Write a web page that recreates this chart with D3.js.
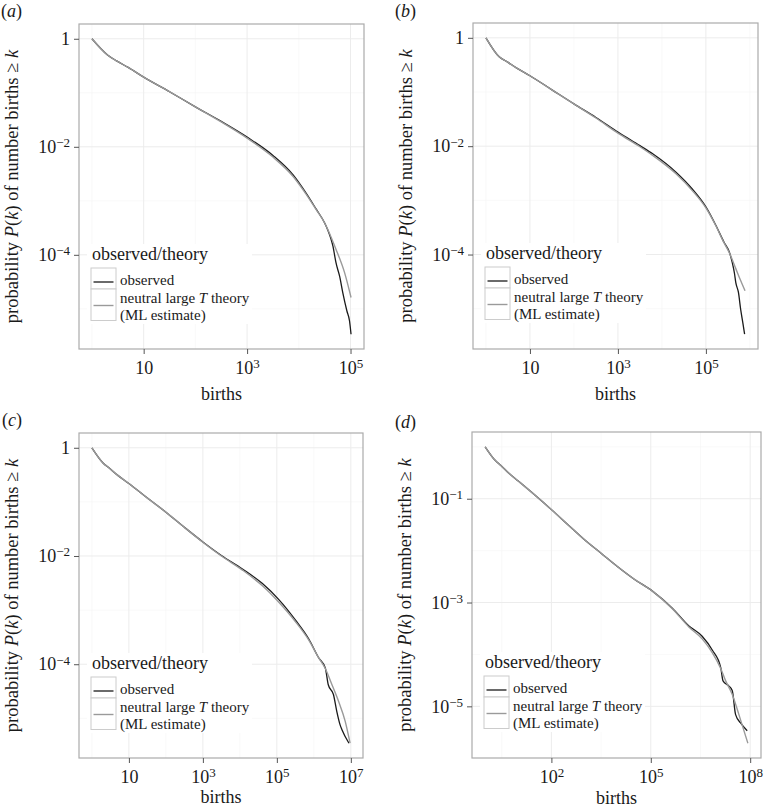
<!DOCTYPE html>
<html><head><meta charset="utf-8">
<script src="https://cdn.jsdelivr.net/npm/d3@7"></script>
<style>
body{margin:0;background:#fff}
svg{display:block}
svg text{font-family:'Liberation Serif','Times New Roman',Times,'DejaVu Serif',serif;fill:#1a1a1a}
</style>
</head><body>
<svg id="chart" width="765" height="808" font-family="'Liberation Serif', 'Times New Roman', Times, 'DejaVu Serif', serif"></svg>
<script>
// ---- data (log10 units: births exponent, probability exponent) ----
const aObsLogK = [0,0.301,0.477,0.7,1,1.5,2,2.5,3,3.5,3.89,4.15,4.34,4.5,4.56,4.62,4.66,4.70,4.72,4.79,4.85,4.93,4.98,5.01];
const aObsLogP = [0,-0.30,-0.41,-0.53,-0.71,-0.98,-1.26,-1.53,-1.82,-2.16,-2.52,-2.87,-3.16,-3.41,-3.54,-3.70,-3.84,-4.05,-4.15,-4.40,-4.70,-5.04,-5.22,-5.47];
const aThLogK  = [0,0.301,0.477,0.7,1,1.5,2,2.5,3,3.5,3.89,4.15,4.34,4.5,4.56,4.72,4.885,5.01];
const aThLogP  = [0,-0.30,-0.41,-0.53,-0.71,-0.98,-1.26,-1.54,-1.84,-2.19,-2.55,-2.89,-3.17,-3.41,-3.53,-3.90,-4.33,-4.79];

const bObsLogK = [0,0.301,0.477,0.7,1,1.5,2,2.5,3,3.5,3.79,4.32,4.69,5.0,5.22,5.41,5.54,5.6,5.65,5.68,5.74,5.79,5.84,5.88];
const bObsLogP = [0,-0.35,-0.44,-0.56,-0.70,-0.96,-1.22,-1.47,-1.74,-1.99,-2.14,-2.48,-2.79,-3.12,-3.45,-3.77,-3.97,-4.15,-4.35,-4.52,-4.70,-5.01,-5.26,-5.47];
const bThLogK  = [0,0.301,0.477,0.7,1,1.5,2,2.5,3,3.5,3.79,4.32,4.69,5.0,5.22,5.41,5.54,5.68,5.79,5.89];
const bThLogP  = [0,-0.35,-0.44,-0.56,-0.70,-0.96,-1.22,-1.48,-1.76,-2.01,-2.17,-2.51,-2.82,-3.14,-3.46,-3.78,-3.98,-4.26,-4.48,-4.67];

const cObsLogK = [0,0.301,0.477,0.7,1,1.5,2,2.5,3,3.5,4.07,4.61,5.06,5.51,5.86,6.13,6.31,6.39,6.53,6.62,6.71,6.76,6.95];
const cObsLogP = [0,-0.28,-0.38,-0.51,-0.66,-0.93,-1.19,-1.47,-1.74,-1.99,-2.24,-2.51,-2.81,-3.19,-3.53,-3.88,-4.07,-4.38,-4.56,-4.87,-5.12,-5.21,-5.46];
const cThLogK  = [0,0.301,0.477,0.7,1,1.5,2,2.5,3,3.5,4.07,4.61,5.06,5.51,5.86,6.13,6.31,6.49,6.67,6.85,6.98];
const cThLogP  = [0,-0.28,-0.38,-0.51,-0.66,-0.93,-1.19,-1.47,-1.745,-2.0,-2.26,-2.55,-2.86,-3.22,-3.55,-3.88,-4.08,-4.38,-4.69,-5.06,-5.46];

const dObsLogK = [0,0.301,0.477,0.7,1,1.5,2,2.5,3,3.5,4,4.5,5.05,5.65,6.15,6.55,6.86,7.11,7.18,7.36,7.46,7.56,7.71,7.91];
const dObsLogP = [0,-0.26,-0.36,-0.50,-0.66,-0.93,-1.21,-1.50,-1.79,-2.05,-2.31,-2.55,-2.78,-3.11,-3.45,-3.65,-3.92,-4.25,-4.51,-4.61,-4.70,-5.16,-5.32,-5.47];
const dThLogK  = [0,0.301,0.477,0.7,1,1.5,2,2.5,3,3.5,4,4.5,5.05,5.65,6.15,6.55,6.86,7.11,7.26,7.46,7.66,7.93];
const dThLogP  = [0,-0.26,-0.36,-0.50,-0.66,-0.93,-1.21,-1.50,-1.79,-2.05,-2.31,-2.55,-2.78,-3.12,-3.47,-3.70,-3.97,-4.27,-4.51,-4.77,-5.16,-5.71];

// tick exponents
const xTicksAB = [1,3,5];
const xTicksC  = [1,3,5,7];
const xTicksD  = [2,5,8];
const yTicksABC = [0,-2,-4];
const yTicksD   = [-1,-3,-5];

const legendTitle = "observed/theory";
const seriesNames = ["observed", "theory"];

// ---- layout ----
const panels = [
  {lab:"a", L:79,  T:24,  R:364, B:349, obsK:aObsLogK, obsP:aObsLogP, thK:aThLogK, thP:aThLogP, xt:xTicksAB, yt:yTicksABC, labX:1,   labY:17,  titleDy:51},
  {lab:"b", L:473, T:23,  R:758, B:349, obsK:bObsLogK, obsP:bObsLogP, thK:bThLogK, thP:bThLogP, xt:xTicksAB, yt:yTicksABC, labX:395, labY:17,  titleDy:51},
  {lab:"c", L:79,  T:433, R:363, B:758, obsK:cObsLogK, obsP:cObsLogP, thK:cThLogK, thP:cThLogP, xt:xTicksC,  yt:yTicksABC, labX:2,   labY:426, titleDy:45},
  {lab:"d", L:472, T:432, R:761, B:758, obsK:dObsLogK, obsP:dObsLogP, thK:dThLogK, thP:dThLogP, xt:xTicksD,  yt:yTicksD,   labX:395, labY:428, titleDy:46}
];

const FONT = "'Liberation Serif', 'Times New Roman', Times, 'DejaVu Serif', serif";
const svg = d3.select("#chart");
const OBS_COL = "#1a1a1a", TH_COL = "#9a9a9a";

function powLabel(sel, e){
  sel.text(null);
  if (e === 0) { sel.append("tspan").text("1"); return; }
  sel.append("tspan").text("10");
  if (e === 1) return;
  sel.append("tspan").attr("dy","-0.45em").attr("font-size","13px")
     .text((e<0?"\u2212":"") + Math.abs(e));
}

panels.forEach(p => {
  const g = svg.append("g").attr("font-family", FONT);
  const obs = p.obsK.map((k,i)=>({k:Math.pow(10,k), p:Math.pow(10,p.obsP[i])}));
  const th  = p.thK.map((k,i)=>({k:Math.pow(10,k), p:Math.pow(10,p.thP[i])}));
  const all = obs.concat(th);
  const lk = d3.extent(all, d=>Math.log10(d.k));
  const lp = d3.extent(all, d=>Math.log10(d.p));
  const ek = (lk[1]-lk[0])*0.05, ep = (lp[1]-lp[0])*0.05;
  const x = d3.scaleLog().domain([Math.pow(10,lk[0]-ek), Math.pow(10,lk[1]+ek)]).range([p.L,p.R]);
  const y = d3.scaleLog().domain([Math.pow(10,lp[0]-ep), Math.pow(10,lp[1]+ep)]).range([p.B,p.T]);

  g.append("rect").attr("x",p.L).attr("y",p.T).attr("width",p.R-p.L).attr("height",p.B-p.T).attr("fill","#fff");

  // minor grid (midpoints in log space)
  const minorX = [], minorY = [];
  const dx = p.xt[1]-p.xt[0], dy = p.yt[1]-p.yt[0];
  for (let i=-1;i<p.xt.length;i++){ const v = p.xt[0]+dx*(i+0.5); const vv=Math.pow(10,v); if (vv>x.domain()[0] && vv<x.domain()[1]) minorX.push(v); }
  for (let i=-1;i<p.yt.length;i++){ const v = p.yt[0]+dy*(i+0.5); const vv=Math.pow(10,v); if (vv>y.domain()[0] && vv<y.domain()[1]) minorY.push(v); }
  g.selectAll(null).data(minorX).enter().append("line")
    .attr("x1",d=>x(Math.pow(10,d))).attr("x2",d=>x(Math.pow(10,d))).attr("y1",p.T).attr("y2",p.B)
    .attr("stroke","#f5f5f5").attr("stroke-width",0.6);
  g.selectAll(null).data(minorY).enter().append("line")
    .attr("y1",d=>y(Math.pow(10,d))).attr("y2",d=>y(Math.pow(10,d))).attr("x1",p.L).attr("x2",p.R)
    .attr("stroke","#f5f5f5").attr("stroke-width",0.6);
  g.selectAll(null).data(p.xt).enter().append("line")
    .attr("x1",d=>x(Math.pow(10,d))).attr("x2",d=>x(Math.pow(10,d))).attr("y1",p.T).attr("y2",p.B)
    .attr("stroke","#ececec").attr("stroke-width",1);
  g.selectAll(null).data(p.yt).enter().append("line")
    .attr("y1",d=>y(Math.pow(10,d))).attr("y2",d=>y(Math.pow(10,d))).attr("x1",p.L).attr("x2",p.R)
    .attr("stroke","#ececec").attr("stroke-width",1);

  // lines
  const line = d3.line().x(d=>x(d.k)).y(d=>y(d.p)).curve(d3.curveMonotoneX);
  g.append("path").datum(obs).attr("d",line).attr("fill","none").attr("stroke",OBS_COL).attr("stroke-width",1.3);
  g.append("path").datum(th).attr("d",line).attr("fill","none").attr("stroke",TH_COL).attr("stroke-width",1.4);

  // legend
  const lg = g.append("g").attr("transform",`translate(${p.L+12},${p.T+244})`);
  lg.append("rect").attr("x",-4).attr("y",-24).attr("width",165).attr("height",80).attr("fill","#fff");
  lg.append("text").attr("x",1).attr("y",-8).attr("font-size","18px").text(legendTitle);
  lg.append("rect").attr("x",0).attr("y",0).attr("width",25).attr("height",21).attr("fill","#fff").attr("stroke","#cccccc").attr("stroke-width",1);
  lg.append("rect").attr("x",0).attr("y",21).attr("width",25).attr("height",31.5).attr("fill","#fff").attr("stroke","#cccccc").attr("stroke-width",1);
  lg.append("line").attr("x1",2.5).attr("x2",22.5).attr("y1",14).attr("y2",14).attr("stroke",OBS_COL).attr("stroke-width",1.3);
  lg.append("line").attr("x1",2.5).attr("x2",22.5).attr("y1",37.5).attr("y2",37.5).attr("stroke",TH_COL).attr("stroke-width",1.4);
  lg.append("text").attr("x",29).attr("y",17).attr("font-size","15px").text(seriesNames[0]);
  const t2 = lg.append("text").attr("x",29).attr("y",34.5).attr("font-size","15px");
  t2.append("tspan").text("neutral large ");
  t2.append("tspan").attr("font-style","italic").text("T");
  t2.append("tspan").text(" " + seriesNames[1]);
  lg.append("text").attr("x",29).attr("y",52).attr("font-size","15px").text("(ML estimate)");

  // border
  g.append("rect").attr("x",p.L).attr("y",p.T).attr("width",p.R-p.L).attr("height",p.B-p.T)
    .attr("fill","none").attr("stroke","#ababab").attr("stroke-width",1.2);

  // axes
  const xa = g.append("g").attr("transform",`translate(0,${p.B})`)
    .call(d3.axisBottom(x).tickValues(p.xt.map(e=>Math.pow(10,e))).tickSize(5).tickPadding(7).tickFormat(()=>""));
  const ya = g.append("g").attr("transform",`translate(${p.L},0)`)
    .call(d3.axisLeft(y).tickValues(p.yt.map(e=>Math.pow(10,e))).tickSize(5).tickPadding(4).tickFormat(()=>""));
  [xa,ya].forEach(a=>{
    a.attr("font-family", FONT).attr("font-size", 18);
    a.select(".domain").remove();
    a.selectAll(".tick line").attr("stroke","#555").attr("stroke-width",1);
    a.selectAll(".tick text").attr("font-size","18px").attr("fill","#1a1a1a");
  });
  xa.selectAll(".tick text").each(function(d){ powLabel(d3.select(this), Math.round(Math.log10(d))); });
  ya.selectAll(".tick text").each(function(d){ powLabel(d3.select(this), Math.round(Math.log10(d))); });

  // axis titles
  g.append("text").attr("x",(p.L+p.R)/2).attr("y",p.B+p.titleDy).attr("text-anchor","middle").attr("font-size","18px").text("births");
  const yt = g.append("text").attr("transform",`translate(${p.L-61},${(p.T+p.B)/2}) rotate(-90)`)
    .attr("text-anchor","middle").attr("font-size","18.5px");
  yt.append("tspan").text("probability ");
  yt.append("tspan").attr("font-style","italic").text("P");
  yt.append("tspan").text("(");
  yt.append("tspan").attr("font-style","italic").text("k");
  yt.append("tspan").text(") of number births \u2265 ");
  yt.append("tspan").attr("font-style","italic").text("k");

  const pl = g.append("text").attr("x",p.labX).attr("y",p.labY).attr("font-size","18px");
  pl.append("tspan").text("(");
  pl.append("tspan").attr("font-style","italic").text(p.lab);
  pl.append("tspan").text(")");
});
</script>
</body></html>
